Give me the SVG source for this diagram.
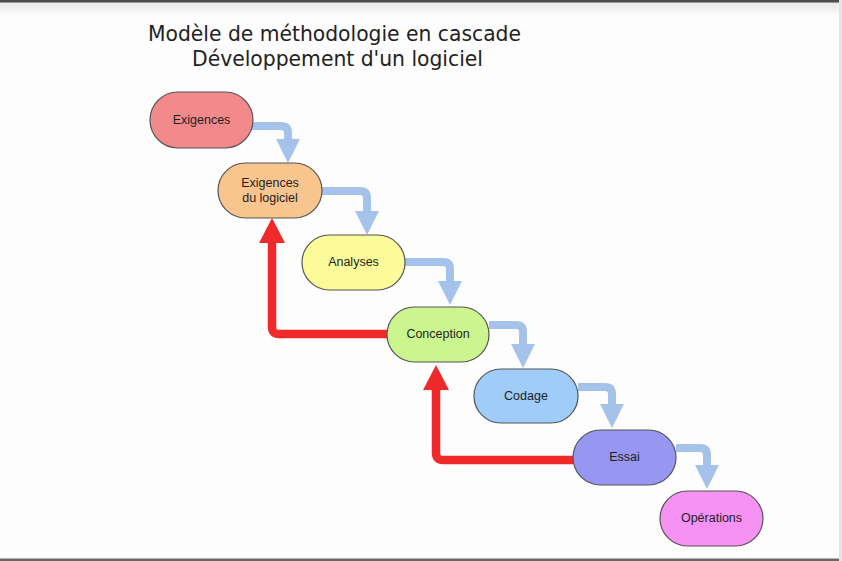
<svg xmlns="http://www.w3.org/2000/svg" width="842" height="561" viewBox="0 0 842 561">
<defs>
<linearGradient id="topShade" x1="0" y1="0" x2="0" y2="1">
<stop offset="0" stop-color="#e6e6e6"/>
<stop offset="1" stop-color="#fdfdfd"/>
</linearGradient>
<marker id="blueHead" viewBox="0 0 24 24" refX="0" refY="12" markerWidth="24" markerHeight="24" markerUnits="userSpaceOnUse" orient="auto">
<path d="M0,0 L24,12 L0,24 Z" fill="#a5c3ea"/>
</marker>
<marker id="redHead" viewBox="0 0 25 26" refX="0" refY="13" markerWidth="25" markerHeight="26" markerUnits="userSpaceOnUse" orient="auto">
<path d="M0,0 L25,13 L0,26 Z" fill="#f02a2a"/>
</marker>
</defs>
<style>
.node rect{stroke:#555;stroke-width:1.2}
.node text{font-family:"Liberation Sans",Arial,sans-serif;font-size:12.5px;fill:#1e1e1e;text-anchor:middle}
.flow{fill:none;stroke:#a5c3ea;stroke-width:8;stroke-linejoin:round;marker-end:url(#blueHead)}
.back{fill:none;stroke:#f02a2a;stroke-width:8.5;stroke-linejoin:round;marker-end:url(#redHead)}
.title{font-family:"DejaVu Sans Condensed","DejaVu Sans",Verdana,sans-serif;font-stretch:condensed;font-size:21.5px;fill:#222}
</style>
<rect x="0" y="0" width="842" height="561" fill="#fdfdfd"/>
<rect x="0" y="2" width="842" height="14" fill="url(#topShade)"/>
<rect x="0" y="0" width="842" height="2.5" fill="#4d4d4d"/>
<rect x="0" y="558.5" width="842" height="2.5" fill="#686868"/>
<rect x="839" y="0" width="3" height="561" fill="#e4e4e4"/>
<text class="title" x="148" y="41" textLength="373" lengthAdjust="spacingAndGlyphs">Modèle de méthodologie en cascade</text>
<text class="title" x="192" y="66" textLength="291" lengthAdjust="spacingAndGlyphs">Développement d'un logiciel</text>
<g id="connectors">
<path class="flow" d="M252,126 H281 Q288,126 288,133 V139"/>
<path class="flow" d="M322,191 H360 Q367,191 367,198 V211"/>
<path class="flow" d="M405,262 H443 Q450,262 450,269 V281"/>
<path class="flow" d="M489,325 H516 Q523,325 523,332 V344"/>
<path class="flow" d="M578,387 H605 Q612,387 612,394 V404"/>
<path class="flow" d="M676,448 H700 Q707,448 707,455 V465"/>
<path class="back" d="M387,334 H279 Q272,334 272,327 V243"/>
<path class="back" d="M573,460 H443 Q436,460 436,453 V390"/>
</g>
<g id="exigences" class="node"><rect x="150" y="92" width="103" height="56" rx="28" fill="#f28a8c"/><text x="201.5" y="124">Exigences</text></g>
<g id="exigences-logiciel" class="node"><rect x="218" y="163" width="104" height="55" rx="27.5" fill="#f9c58f"/><text x="270" y="187">Exigences</text><text x="270" y="202">du logiciel</text></g>
<g id="analyses" class="node"><rect x="302" y="235" width="103" height="55" rx="27.5" fill="#fbfb99"/><text x="353.5" y="266">Analyses</text></g>
<g id="conception" class="node"><rect x="387" y="307" width="102" height="55" rx="27.5" fill="#cbf68f"/><text x="438" y="338">Conception</text></g>
<g id="codage" class="node"><rect x="474" y="369" width="104" height="54" rx="27" fill="#a0ccf9"/><text x="526" y="400">Codage</text></g>
<g id="essai" class="node"><rect x="573" y="430" width="103" height="55" rx="27.5" fill="#9797f3"/><text x="624.5" y="461">Essai</text></g>
<g id="operations" class="node"><rect x="660" y="491" width="103" height="55" rx="27.5" fill="#f692f4"/><text x="711.5" y="522">Opérations</text></g>
</svg>
